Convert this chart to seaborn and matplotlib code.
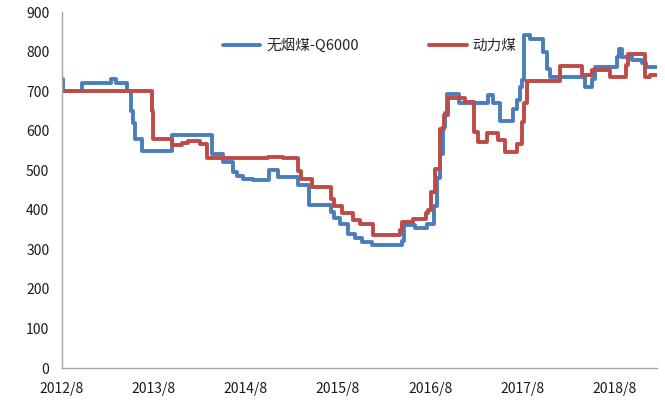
import pandas as pd
import matplotlib
matplotlib.use('Agg')
import matplotlib.pyplot as plt
import seaborn as sns

# 无烟煤-Q6000 价格变动点
blue_dates = ['2012-08-01', '2012-08-05', '2012-10-19', '2013-02-12', '2013-03-02', '2013-04-15',
              '2013-05-01', '2013-05-09', '2013-05-17', '2013-06-14', '2013-10-12', '2014-03-18',
              '2014-05-01', '2014-06-10', '2014-06-25', '2014-07-19', '2014-08-28', '2014-11-01',
              '2014-12-06', '2015-02-25', '2015-04-10', '2015-07-06', '2015-07-18', '2015-08-08',
              '2015-09-10', '2015-10-06', '2015-11-03', '2015-12-13', '2016-04-10', '2016-04-21',
              '2016-06-01', '2016-07-18', '2016-08-16', '2016-08-28', '2016-09-09', '2016-09-21',
              '2016-09-28', '2016-10-06', '2016-11-24', '2017-03-18', '2017-04-09', '2017-05-04',
              '2017-06-25', '2017-07-10', '2017-07-22', '2017-08-01', '2017-08-07', '2017-09-01',
              '2017-10-22', '2017-11-07', '2017-11-19', '2018-04-07', '2018-05-04', '2018-05-16',
              '2018-08-12', '2018-08-19', '2018-09-01', '2018-10-10', '2018-11-19', '2018-12-06',
              '2019-01-18']
blue_values = [730, 700, 720, 730, 720, 700,
               650, 620, 580, 550, 590, 540,
               520, 495, 485, 478, 475, 500,
               482, 462, 412, 395, 380, 365,
               340, 330, 320, 310, 322, 362,
               353, 363, 410, 480, 540, 610,
               645, 693, 670, 690, 670, 625,
               655, 677, 710, 727, 843, 833,
               800, 757, 735, 710, 730, 760,
               787, 807, 787, 780, 770, 762,
               762]

# 动力煤 价格变动点
red_dates = ['2012-08-01', '2013-07-23', '2013-07-27', '2013-10-12', '2013-11-20', '2013-12-13',
             '2014-02-01', '2014-02-28', '2014-10-28', '2014-12-25', '2015-02-25', '2015-03-07',
             '2015-04-22', '2015-07-06', '2015-07-15', '2015-08-19', '2015-09-28', '2015-10-27',
             '2015-12-18', '2016-04-03', '2016-04-10', '2016-05-24', '2016-07-15', '2016-07-22',
             '2016-08-04', '2016-08-19', '2016-09-09', '2016-09-25', '2016-10-10', '2016-12-18',
             '2017-01-22', '2017-02-07', '2017-03-13', '2017-04-27', '2017-05-24', '2017-07-10',
             '2017-08-01', '2017-08-07', '2017-08-19', '2017-12-28', '2018-03-25', '2018-05-07',
             '2018-07-15', '2018-09-16', '2018-09-25', '2018-12-01', '2018-12-22', '2019-01-18']
red_values = [700, 650, 580, 563, 569, 573,
              567, 530, 534, 530, 498, 479,
              458, 428, 409, 391, 375, 364,
              336, 348, 369, 378, 392, 399,
              445, 504, 605, 640, 683, 672,
              597, 571, 593, 576, 546, 567,
              622, 670, 725, 763, 740, 753,
              737, 765, 795, 737, 742, 742]

series_names = ['无烟煤-Q6000', '动力煤']
series_colors = ['#4A7EBB', '#BE4B48']
tick_dates = ['2012-08-01', '2013-08-01', '2014-08-01', '2015-08-01',
              '2016-08-01', '2017-08-01', '2018-08-01']
tick_labels = ['2012/8', '2013/8', '2014/8', '2015/8', '2016/8', '2017/8', '2018/8']

df = pd.concat([
    pd.DataFrame({'date': pd.to_datetime(blue_dates), 'price': blue_values, 'series': series_names[0]}),
    pd.DataFrame({'date': pd.to_datetime(red_dates), 'price': red_values, 'series': series_names[1]}),
])

sns.set_style('white')
plt.rcParams['font.family'] = ['Noto Sans CJK SC', 'DejaVu Sans']

fig = plt.figure(figsize=(6.65, 4.01), dpi=100)
ax = fig.add_axes([0.093, 0.082, 0.895, 0.888])

sns.lineplot(data=df, x='date', y='price', hue='series', hue_order=series_names,
             palette=series_colors, estimator=None, drawstyle='steps-post',
             linewidth=2.8, ax=ax)

ax.set_xlim(pd.Timestamp('2012-08-01'), pd.Timestamp('2019-01-18'))
ax.set_ylim(0, 900)
ax.set_yticks(range(0, 901, 100))
ax.set_xticks(pd.to_datetime(tick_dates))
ax.set_xticklabels(tick_labels)
ax.set_xlabel('')
ax.set_ylabel('')

for side in ['top', 'right']:
    ax.spines[side].set_visible(False)
for side in ['left', 'bottom']:
    ax.spines[side].set_color('#A6A6A6')
    ax.spines[side].set_linewidth(1)
ax.tick_params(axis='both', direction='out', length=5, width=1, color='#A6A6A6',
               labelsize=10, labelcolor='#1a1a1a', pad=4)
ax.tick_params(axis='x', pad=5)

handles, labels = ax.get_legend_handles_labels()
ax.legend(handles, labels, loc='center', bbox_to_anchor=(0.517, 0.905), ncol=2,
          frameon=False, fontsize=10.5, handlelength=2.6, columnspacing=4.8,
          handletextpad=0.4)

fig.savefig('out.png', dpi=100)
